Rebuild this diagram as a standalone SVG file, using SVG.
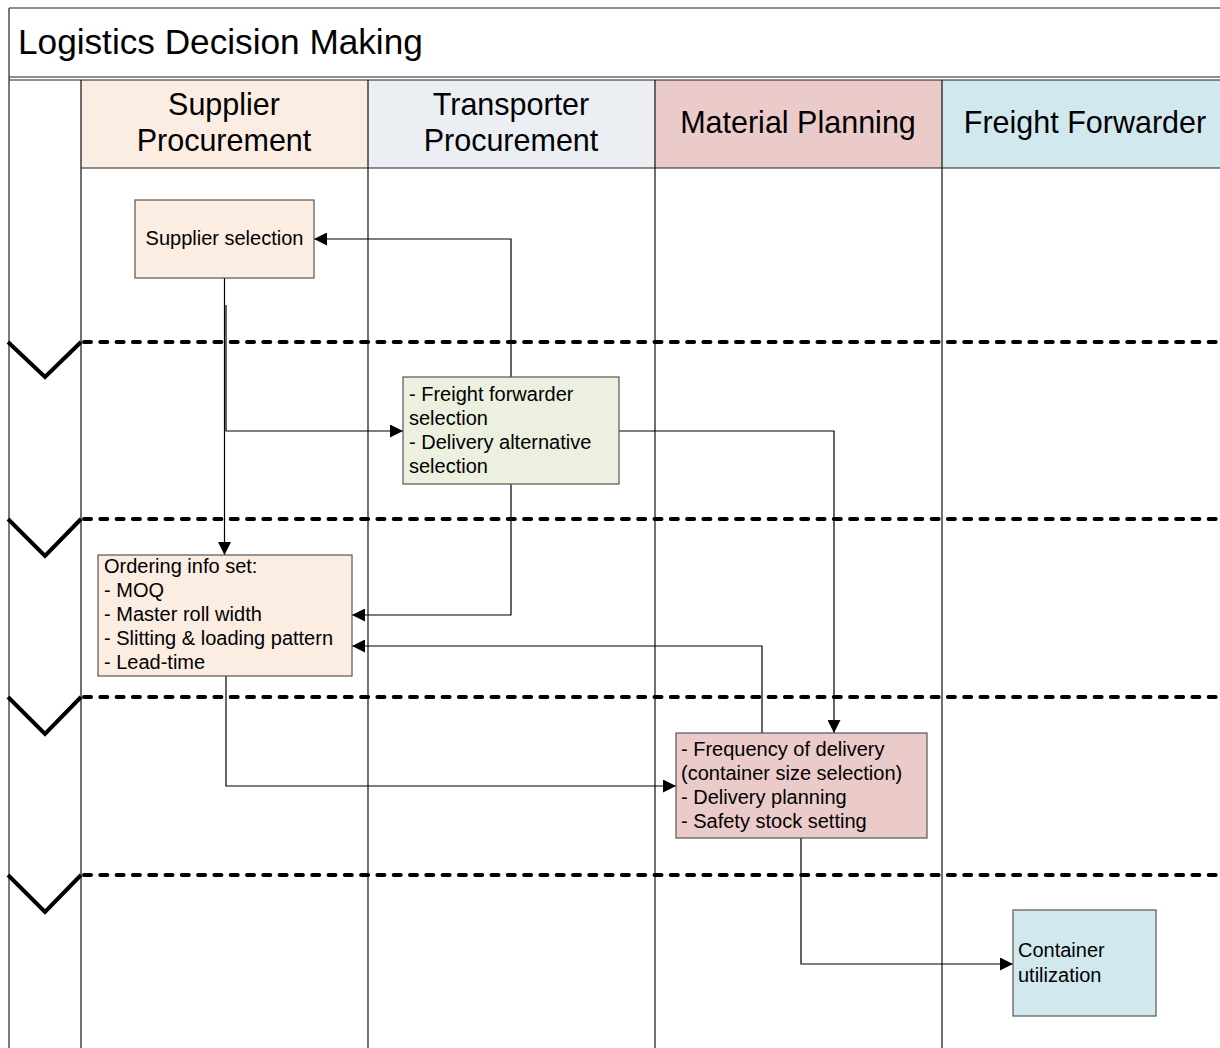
<svg xmlns="http://www.w3.org/2000/svg" width="1220" height="1048" viewBox="0 0 1220 1048">
<style>
  text { font-family: "Liberation Sans", Arial, sans-serif; fill: #000; }
  .frame { stroke: #222; stroke-width: 1.2; fill: none; }
  .lane { stroke: #111; stroke-width: 1.2; fill: none; }
  .sep { stroke: #000; stroke-width: 4; stroke-dasharray: 7 9.3; stroke-linecap: round; fill: none; }
  .chev { stroke: #000; stroke-width: 4; fill: none; stroke-linejoin: miter; }
  .hdr { font-size: 30.5px; text-anchor: middle; }
  .box { stroke: #555; stroke-width: 1.2; }
  .t { font-size: 20px; }
  .conn { stroke: #000; stroke-width: 1.2; fill: none; }
</style>
<defs>
  <marker id="arr" viewBox="0 0 13 13" refX="13" refY="6.5" markerWidth="13" markerHeight="13" markerUnits="userSpaceOnUse" orient="auto">
    <path d="M0,0 L13,6.5 L0,13 Z" fill="#000"/>
  </marker>
</defs>
<rect width="1220" height="1048" fill="#fff"/>

<g id="pool">
  <rect x="81" y="80" width="287" height="88" fill="#fcede2"/>
  <rect x="368" y="80" width="287" height="88" fill="#ebeff4"/>
  <rect x="655" y="80" width="287" height="88" fill="#ebcaca"/>
  <rect x="942" y="80" width="278" height="88" fill="#d1e9ee"/>
  <line class="frame" x1="9" y1="8" x2="1220" y2="8"/>
  <line class="frame" x1="9" y1="8" x2="9" y2="1048"/>
  <line class="frame" x1="9" y1="77" x2="1220" y2="77"/>
  <line class="frame" x1="9" y1="80" x2="1220" y2="80"/>
  <line class="frame" x1="81" y1="168" x2="1220" y2="168"/>
  <line class="lane" x1="81" y1="80" x2="81" y2="1048"/>
  <line class="lane" x1="368" y1="80" x2="368" y2="1048"/>
  <line class="lane" x1="655" y1="80" x2="655" y2="1048"/>
  <line class="lane" x1="942" y1="80" x2="942" y2="1048"/>
  <text x="18" y="54" font-size="35.2">Logistics Decision Making</text>
  <text class="hdr" x="224" y="115">Supplier</text>
  <text class="hdr" x="224" y="151">Procurement</text>
  <text class="hdr" x="511" y="115">Transporter</text>
  <text class="hdr" x="511" y="151">Procurement</text>
  <text class="hdr" x="798" y="133">Material Planning</text>
  <text class="hdr" x="1085" y="133">Freight Forwarder</text>
</g>

<g id="phases">
  <polyline class="chev" points="8,342 45,377 81,342"/>
  <line class="sep" x1="84" y1="342" x2="1222" y2="342"/>
  <polyline class="chev" points="8,519 45,556 81,519"/>
  <line class="sep" x1="84" y1="519" x2="1222" y2="519"/>
  <polyline class="chev" points="8,697 45,734 81,697"/>
  <line class="sep" x1="84" y1="697" x2="1222" y2="697"/>
  <polyline class="chev" points="8,875 45,912 81,875"/>
  <line class="sep" x1="84" y1="875" x2="1222" y2="875"/>
</g>

<g id="connectors">
  <path class="conn" d="M511,377 V239 H314" marker-end="url(#arr)"/>
  <path class="conn" d="M224.5,278 V555" marker-end="url(#arr)"/>
  <path class="conn" d="M226,305 V431 H403" marker-end="url(#arr)"/>
  <path class="conn" d="M511,484 V615 H352" marker-end="url(#arr)"/>
  <path class="conn" d="M619,431 H834 V733" marker-end="url(#arr)"/>
  <path class="conn" d="M762,733 V646 H352" marker-end="url(#arr)"/>
  <path class="conn" d="M226,676 V786 H676" marker-end="url(#arr)"/>
  <path class="conn" d="M801,838 V964 H1013" marker-end="url(#arr)"/>
</g>

<g id="supplier-selection">
  <rect class="box" x="135" y="200" width="179" height="78" fill="#fcede2"/>
  <text class="t" x="224.5" y="245" text-anchor="middle" font-size="19">Supplier selection</text>
</g>

<g id="freight-forwarder-selection">
  <rect class="box" x="403" y="377" width="216" height="107" fill="#ebf0df"/>
  <text class="t" x="409" y="401">- Freight forwarder</text>
  <text class="t" x="409" y="425">selection</text>
  <text class="t" x="409" y="449">- Delivery alternative</text>
  <text class="t" x="409" y="473">selection</text>
</g>

<g id="ordering-info">
  <rect class="box" x="98" y="555" width="254" height="121" fill="#fcede2"/>
  <text class="t" x="104" y="573" font-size="19">Ordering info set:</text>
  <text class="t" x="104" y="597" font-size="19">- MOQ</text>
  <text class="t" x="104" y="621" font-size="19">- Master roll width</text>
  <text class="t" x="104" y="645" font-size="19">- Slitting &amp; loading pattern</text>
  <text class="t" x="104" y="669" font-size="19">- Lead-time</text>
</g>

<g id="delivery-planning">
  <rect class="box" x="676" y="733" width="251" height="105" fill="#ebcaca"/>
  <text class="t" x="681" y="756">- Frequency of delivery</text>
  <text class="t" x="681" y="780">(container size selection)</text>
  <text class="t" x="681" y="804">- Delivery planning</text>
  <text class="t" x="681" y="828">- Safety stock setting</text>
</g>

<g id="container-utilization">
  <rect class="box" x="1013" y="910" width="143" height="106" fill="#d1e9ee"/>
  <text class="t" x="1018" y="957">Container</text>
  <text class="t" x="1018" y="982">utilization</text>
</g>
</svg>
